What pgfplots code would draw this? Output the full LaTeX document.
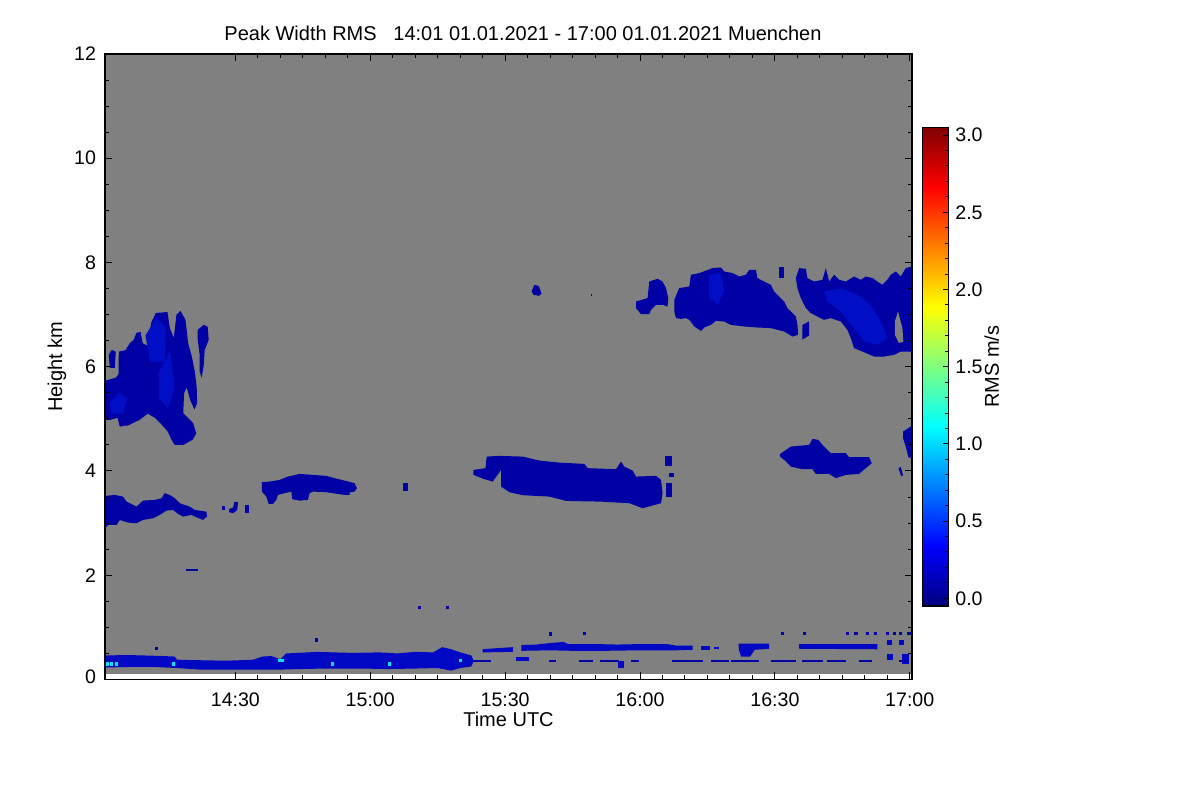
\documentclass[border=0pt]{standalone}
\usepackage{fontspec}
\setmainfont{Liberation Sans}
\usepackage{pgfplots}
\pgfplotsset{compat=1.18}
\definecolor{bggray}{RGB}{128,128,128}
\definecolor{cb}{RGB}{0,0,165}
\definecolor{cbl}{RGB}{0,14,198}
\definecolor{cbb}{RGB}{0,8,195}
\definecolor{cyanish}{RGB}{0,230,255}
\begin{document}
\begin{tikzpicture}
\path[use as bounding box] (0,0) rectangle (600bp,400bp);
\begin{axis}[
  at={(52.5bp,60.25bp)}, anchor=south west,
  scale only axis, width=403.5bp, height=312.75bp,
  xmin=1, xmax=180.5, ymin=0, ymax=12,
  axis on top,
  axis line style={line width=0.6bp},
  tick align=inside, xtick pos=both, ytick pos=both,
  xticklabel pos=lower, yticklabel pos=left,
  major tick length=3.5bp, minor tick length=2bp,
  every tick/.style={black, line width=0.5bp},
  xtick={30,60,90,120,150,180},
  xticklabels={14:30,15:00,15:30,16:00,16:30,17:00},
  minor x tick num=5,
  ytick={0,2,4,6,8,10,12},
  yticklabels={\raisebox{3bp}{0},2,4,6,8,10,\raisebox{-3bp}{12}},
  minor y tick num=3,
  tick label style={font=\fontsize{9.8bp}{11bp}\selectfont},
  /pgf/number format/assume math mode=true,
  xticklabel style={yshift=-3bp},
  yticklabel style={xshift=-1bp},
  xlabel={Time UTC},
  xlabel style={font=\fontsize{10bp}{12bp}\selectfont, at={(axis description cs:0.5,-0.064)}, anchor=center},
  ylabel={Height km},
  ylabel style={font=\fontsize{10bp}{12bp}\selectfont, at={(axis description cs:-0.0595,0.5)}, anchor=center},
  title={Peak Width RMS\ \ \ 14:01 01.01.2021 - 17:00 01.01.2021 Muenchen},
  title style={font=\fontsize{10bp}{12bp}\selectfont, at={(axis description cs:0.518,1.0336)}, anchor=center, yshift=-6pt},
  colormap/jet,
  point meta min=-0.05, point meta max=3.05,
  colorbar,
  colorbar style={
    at={(parent axis.south east)}, anchor=south west,
    xshift=-3.15bp, yshift=36.75bp,
    scale only axis, width=12.8bp, height=239.3bp,
    axis line style={line width=0.6bp},
    ytick={0,0.5,1,1.5,2,2.5,3},
    minor y tick num=4,
    tick align=inside,
    ytick pos=right, yticklabel pos=right,
    major tick length=2.5bp, minor tick length=1.8bp,
    every tick/.style={black, line width=0.5bp},
    yticklabel style={font=\fontsize{9.8bp}{11bp}\selectfont,
      /pgf/number format/.cd, fixed, fixed zerofill, precision=1, assume math mode=true},
    ylabel={RMS m/s},
    ylabel style={font=\fontsize{10bp}{12bp}\selectfont, at={(axis description cs:2.695,0.5)}, anchor=center},
  },
]
% gray no-signal background
\addplot[fill=bggray, draw=none] coordinates {(1,0.11) (180.5,0.11) (180.5,12) (1,12)} -- cycle;

% ---- left upper cloud (14:01-14:24, 4.5-7 km)
\addplot[fill=cb, draw=none] coordinates {(1,4.98) (1,5.73) (3.4,5.79) (4.0,5.85) (4.07,6.29) (5.6,6.32) (6.5,6.45) (7.4,6.52) (8.0,6.65) (8.9,6.67) (9.4,6.45) (10.5,6.40) (11.3,6.85) (12.3,7.03) (14.9,7.05) (15.4,6.75) (16.3,6.55) (16.9,7.0) (17.8,7.07) (18.9,6.9) (19.5,6.45) (20.3,6.2) (21.0,5.9) (21.4,5.6) (21.5,5.3) (20.9,5.18) (20.0,5.35) (19.2,5.6) (18.6,5.5) (18.4,5.11) (20.6,4.92) (21.3,4.72) (20.5,4.60) (18.4,4.50) (16.5,4.50) (15.8,4.60) (15.0,4.75) (13.6,4.89) (12.1,5.02) (10.5,5.10) (8.7,4.98) (7.2,4.92) (6.1,4.87) (5.4,4.87) (4.3,4.85) (3.8,5.02) (2.1,4.98)} -- cycle;
\addplot[fill=cb, draw=none] coordinates {(21.62,6.708) (22.96,6.804) (23.84,6.766) (24.07,6.516) (23.18,6.324) (22.96,6.036) (22.51,5.787) (22.07,5.902) (22.07,6.228) (21.62,6.516)} -- cycle;
\addplot[fill=cb, draw=none] coordinates {(1.84,6.228) (2.51,6.324) (3.4,6.286) (3.18,5.979) (2.07,5.979)} -- cycle;
\addplot[fill=cbl, draw=none] coordinates {(10,6.6) (12.5,6.95) (14.5,6.75) (14.3,6.1) (11,6.1)} -- cycle;
\addplot[fill=cbl, draw=none] coordinates {(13,5.9) (15.5,6.3) (16.5,5.6) (15,5.2) (13,5.4)} -- cycle;
\addplot[fill=cbl, draw=none] coordinates {(2,5.3) (4,5.5) (6,5.4) (5,5.1) (2.5,5.1)} -- cycle;

% ---- left 3 km patch
\addplot[fill=cb, draw=none] coordinates {(1,3.522) (3.18,3.541) (5.02,3.509) (5.78,3.413) (8.0,3.317) (9.47,3.432) (12.07,3.445) (13.56,3.478) (14.29,3.574) (15.4,3.541) (16.51,3.478) (17.62,3.382) (18.73,3.349) (19.84,3.317) (20.96,3.253) (23.56,3.221) (23.69,3.125) (22.8,3.061) (21.33,3.113) (20.22,3.157) (18.36,3.125) (17.24,3.177) (16.13,3.253) (14.67,3.240) (13.18,3.157) (11.69,3.094) (9.47,3.061) (8.0,2.998) (6.13,3.010) (4.29,3.061) (3.56,2.965) (1.69,2.965) (1,2.902)} -- cycle;
\addplot[fill=cb, draw=none] coordinates {(27.0,3.25) (27.6,3.25) (27.6,3.33) (27.0,3.33)} -- cycle;
\addplot[fill=cb, draw=none] coordinates {(28.6,3.27) (29.5,3.30) (29.8,3.41) (30.6,3.40) (30.4,3.25) (29.5,3.19) (28.6,3.21)} -- cycle;
\addplot[fill=cb, draw=none] coordinates {(32.1,3.20) (33.0,3.20) (33.0,3.35) (32.1,3.35)} -- cycle;

% ---- 14:36-14:57 patch near 3.7 km
\addplot[fill=cb, draw=none] coordinates {(35.91,3.785) (37.62,3.797) (39.84,3.829) (41.69,3.893) (44.29,3.944) (47.24,3.925) (50.22,3.906) (52.07,3.862) (54.29,3.816) (56.51,3.766) (57.02,3.670) (56.51,3.605) (55.4,3.586) (55.4,3.541) (54.29,3.541) (51.69,3.574) (50.22,3.593) (47.24,3.605) (46.51,3.574) (46.13,3.445) (44.29,3.432) (42.67,3.459) (42.44,3.605) (40.96,3.574) (39.47,3.541) (39.11,3.445) (38.36,3.369) (37.4,3.369) (36.89,3.509) (35.91,3.605)} -- cycle;
\addplot[fill=cb, draw=none] coordinates {(67.3,3.62) (68.4,3.62) (68.4,3.77) (67.3,3.77)} -- cycle;

% ---- 15:23-16:05 cloud near 3.8 km
\addplot[fill=cb, draw=none] coordinates {(82.96,4.021) (85.62,4.054) (85.91,4.276) (88.73,4.290) (93.91,4.276) (97.62,4.200) (102.07,4.161) (107.62,4.136) (108.36,4.054) (114.67,4.035) (115.78,4.180) (116.51,4.084) (118.36,4.008) (119.11,3.893) (123.56,3.906) (124.67,3.829) (125.02,3.574) (124.67,3.382) (120.58,3.286) (117.62,3.382) (110.96,3.413) (103.56,3.426) (99.84,3.509) (93.91,3.536) (90.96,3.593) (89.11,3.701) (89.11,4.021) (87.24,3.797) (85.40,3.843) (82.96,3.925)} -- cycle;
\addplot[fill=cb, draw=none] coordinates {(125.6,4.10) (127.1,4.10) (127.1,4.29) (125.6,4.29)} -- cycle;
\addplot[fill=cb, draw=none] coordinates {(126.4,3.88) (127.6,3.88) (127.6,3.96) (126.4,3.96)} -- cycle;
\addplot[fill=cb, draw=none] coordinates {(125.8,3.51) (127.1,3.51) (127.1,3.77) (125.8,3.77)} -- cycle;

% ---- 16:31-16:52 patch near 4.2 km
\addplot[fill=cb, draw=none] coordinates {(151.1,4.322) (153.56,4.469) (157.62,4.501) (158.36,4.616) (159.69,4.597) (160.58,4.501) (162.44,4.342) (165.78,4.342) (166.51,4.265) (170.96,4.265) (171.56,4.150) (170.22,4.054) (168.73,3.944) (165.78,3.925) (163.56,3.862) (162.07,3.944) (159.11,3.944) (158.36,4.035) (156.13,4.035) (153.56,4.084) (152.07,4.213) (151.1,4.276)} -- cycle;
\addplot[fill=cb, draw=none] coordinates {(178.51,4.756) (180.22,4.852) (180.5,4.917) (180.5,4.246) (179.69,4.265) (179.11,4.469) (178.51,4.630)} -- cycle;
\addplot[fill=cb, draw=none] coordinates {(177.5,4.05) (178.0,4.08) (178.5,3.92) (178.1,3.90)} -- cycle;

% ---- upper right clouds (7 km)
\addplot[fill=cb, draw=none] coordinates {(95.9,7.45) (96.5,7.57) (97.5,7.55) (98.1,7.40) (97.5,7.36) (96.3,7.38)} -- cycle;
\addplot[fill=cb, draw=none] coordinates {(109.0,7.35) (109.4,7.35) (109.4,7.39) (109.0,7.39)} -- cycle;
\addplot[fill=cb, draw=none] coordinates {(119.11,7.251) (121.69,7.317) (122.07,7.635) (123.91,7.687) (125.02,7.635) (125.78,7.508) (126.29,7.317) (126.13,7.155) (125.02,7.188) (123.56,7.188) (122.44,7.092) (122.07,7.010) (120.22,7.010) (119.11,7.125)} -- cycle;
\addplot[fill=cb, draw=none] coordinates {(127.62,7.284) (128.73,7.508) (130.96,7.540) (131.33,7.764) (133.18,7.797) (136.13,7.892) (138.0,7.904) (138.73,7.827) (140.58,7.797) (142.07,7.731) (143.56,7.764) (144.29,7.860) (145.78,7.860) (146.13,7.701) (147.62,7.635) (149.11,7.572) (149.84,7.443) (150.96,7.347) (152.07,7.251) (152.8,7.125) (153.91,7.029) (154.67,6.963) (155.02,6.804) (155.18,6.612) (153.91,6.580) (152.07,6.676) (150.58,6.708) (149.11,6.741) (146.13,6.753) (143.18,6.772) (140.22,6.804) (138.73,6.868) (136.89,6.881) (135.78,6.804) (134.29,6.753) (133.56,6.689) (132.07,6.772) (130.96,6.900) (130.22,6.933) (129.11,6.919) (128.0,6.933) (127.62,7.060)} -- cycle;
\addplot[fill=cb, draw=none] coordinates {(150.96,7.70) (152.07,7.70) (152.07,7.92) (150.96,7.92)} -- cycle;
\addplot[fill=cb, draw=none] coordinates {(156.1,6.52) (157.6,6.60) (157.6,6.87) (156.1,6.80)} -- cycle;
\addplot[fill=cb, draw=none] coordinates {(154.67,7.701) (155.4,7.892) (156.89,7.879) (157.24,7.701) (158.73,7.635) (160.58,7.668) (161.33,7.892) (162.07,7.635) (163.18,7.764) (164.29,7.668) (165.78,7.635) (167.62,7.731) (169.11,7.668) (170.22,7.731) (171.69,7.701) (172.8,7.635) (173.91,7.572) (175.02,7.668) (175.78,7.764) (176.89,7.827) (178.0,7.731) (179.11,7.892) (180.5,7.923) (180.5,6.292) (178.0,6.292) (176.51,6.228) (174.29,6.196) (172.07,6.196) (169.47,6.292) (167.62,6.357) (166.89,6.549) (166.13,6.708) (164.67,6.868) (162.44,6.933) (160.96,6.900) (159.47,6.963) (158.0,7.029) (156.89,7.125) (155.78,7.317) (155.02,7.508)} -- cycle;
\addplot[fill=cbl, draw=none] coordinates {(135.4,7.764) (138.0,7.797) (138.73,7.443) (137.24,7.188) (135.4,7.317)} -- cycle;
\addplot[fill=cbl, draw=none] coordinates {(160.96,7.443) (164.67,7.508) (168.36,7.380) (171.33,7.188) (173.56,6.868) (175.02,6.549) (172.8,6.420) (169.84,6.484) (167.62,6.741) (164.67,7.060) (161.69,7.251)} -- cycle;
\addplot[fill=bggray, draw=none] coordinates {(176.67,6.868) (177.4,7.060) (178.36,6.741) (178.58,6.484) (177.62,6.453) (176.67,6.612)} -- cycle;

% ---- boundary-layer band near the ground
\addplot[fill=cbb, draw=none] coordinates {(1,0.46) (6,0.47) (10,0.46) (14,0.45) (16.5,0.44) (17,0.38) (22,0.37) (28,0.36) (34,0.38) (36,0.44) (38,0.45) (40,0.39) (41.3,0.50) (44,0.51) (48,0.53) (52,0.52) (56,0.51) (62,0.52) (66,0.50) (70,0.53) (74,0.52) (76,0.62) (78,0.58) (80,0.52) (82.5,0.46) (83,0.36) (82.5,0.25) (80,0.22) (78,0.17) (75,0.22) (70,0.21) (64,0.20) (58,0.21) (50,0.21) (44,0.20) (40,0.19) (34,0.19) (28,0.19) (22,0.19) (17,0.22) (12,0.24) (6,0.24) (1,0.23)} -- cycle;
\addplot[fill=cbb, draw=none] coordinates {(85,0.52) (85,0.58) (88,0.60) (91.7,0.62) (91.7,0.53)} -- cycle;
\addplot[fill=cbb, draw=none] coordinates {(92.4,0.355) (95.4,0.355) (95.4,0.44) (92.4,0.44)} -- cycle;
\addplot[fill=cbb, draw=none] coordinates {(93.6,0.55) (93.6,0.66) (97,0.67) (100,0.70) (103,0.72) (104,0.68) (110,0.68) (115,0.67) (120,0.68) (126,0.68) (128,0.65) (131.7,0.65) (131.7,0.57) (128,0.56) (120,0.56) (112,0.55) (105,0.55) (100,0.56)} -- cycle;
\addplot[fill=cbb, draw=none] coordinates {(133.5,0.57) (135.5,0.57) (135.5,0.65) (133.5,0.65)} -- cycle;
\addplot[fill=cbb, draw=none] coordinates {(136.5,0.58) (137.5,0.58) (137.5,0.63) (136.5,0.63)} -- cycle;
\addplot[fill=cbb, draw=none] coordinates {(141.9,0.69) (148.7,0.69) (148.7,0.59) (145.5,0.57) (144.5,0.44) (142.5,0.44) (142.0,0.57)} -- cycle;
\addplot[fill=cbb, draw=none] coordinates {(155.4,0.68) (172.8,0.68) (172.8,0.58) (155.4,0.59)} -- cycle;
\addplot[fill=cbb, draw=none] coordinates {(115,0.215) (116.5,0.215) (116.5,0.35) (115,0.35)} -- cycle;
\addplot[fill=cbb, draw=none] coordinates {(175.0,0.66) (176.1,0.66) (176.1,0.76) (175.0,0.76)} -- cycle;
\addplot[fill=cbb, draw=none] coordinates {(177.6,0.66) (178.7,0.66) (178.7,0.76) (177.6,0.76)} -- cycle;
\addplot[fill=cbb, draw=none] coordinates {(175.0,0.37) (176.3,0.37) (176.3,0.49) (175.0,0.49)} -- cycle;
\addplot[fill=cbb, draw=none] coordinates {(178.3,0.30) (179.8,0.30) (179.8,0.49) (178.3,0.49)} -- cycle;
% thin streak at 0.35 km
\addplot[cb, line width=0.9bp, unbounded coords=jump] coordinates {
 (82.8,0.355) (86.9,0.355) (86.9,nan)
 (99.8,0.355) (101.3,0.355) (101.3,nan)
 (106.5,0.355) (109.5,0.355) (109.5,nan)
 (111.0,0.355) (115.4,0.355) (115.4,nan)
 (118.0,0.355) (119.8,0.355) (119.8,nan)
 (127.2,0.355) (133.9,0.355) (133.9,nan)
 (135.8,0.355) (139.8,0.355) (139.8,nan)
 (140.2,0.355) (146.5,0.355) (146.5,nan)
 (149.1,0.355) (154.7,0.355) (154.7,nan)
 (156.1,0.355) (160.6,0.355) (160.6,nan)
 (161.7,0.355) (165.8,0.355) (165.8,nan)
 (168.7,0.355) (171.7,0.355) (171.7,nan)
 (177.6,0.355) (179.8,0.355)};
% isolated echoes
\addplot[cb, line width=0.9bp] coordinates {(19.0,2.10) (21.6,2.10)};
\addplot[only marks, mark=square*, mark size=0.55bp, color=cb] coordinates {
 (71.0,1.386) (77.1,1.386) (48.1,0.76) (12.4,0.60) (100,0.873)
 (100.1,0.887) (107.6,0.887) (151.7,0.887) (156.5,0.887) (166.1,0.887) (168.0,0.887)
 (170.6,0.887) (172.4,0.887) (175.0,0.887) (176.5,0.887) (178.0,0.887) (179.8,0.887)};
\addplot[only marks, mark=square*, mark size=0.55bp, color=cyanish] coordinates {
 (1.5,0.30) (2.5,0.30) (3.5,0.30) (16.3,0.30) (39.8,0.37) (40.4,0.37) (51.5,0.30) (64.2,0.30) (80.1,0.37)};
\end{axis}
\end{tikzpicture}
\end{document}
